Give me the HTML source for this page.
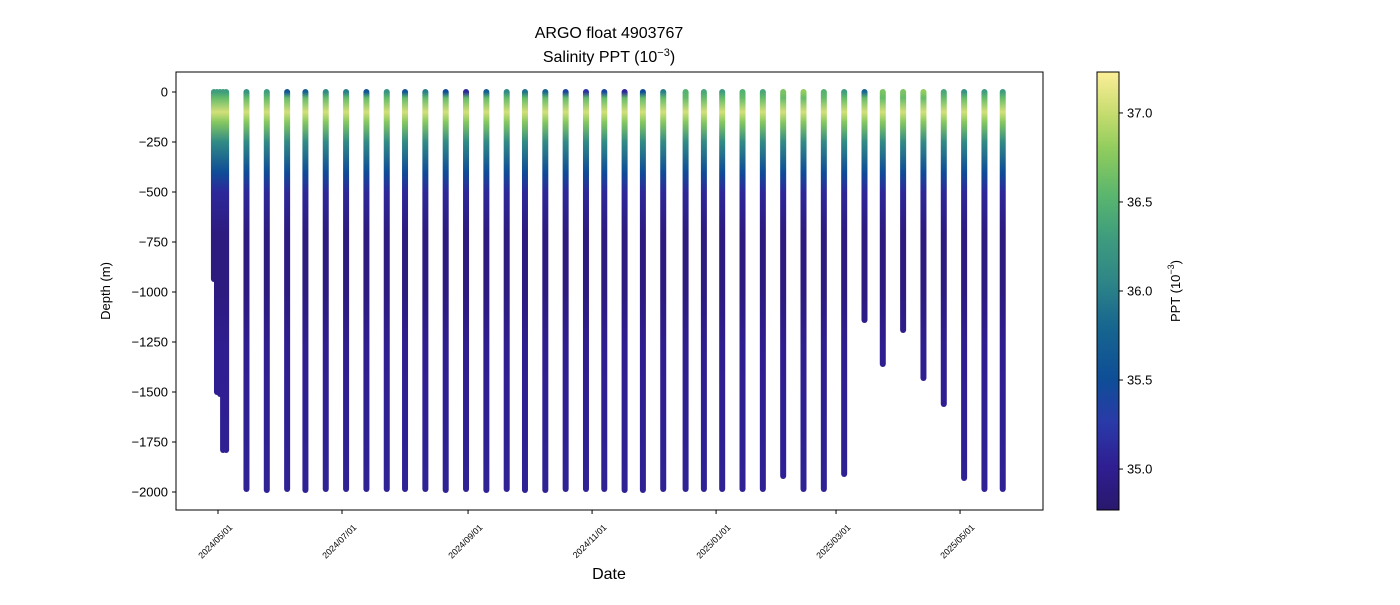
<!DOCTYPE html>
<html><head><meta charset="utf-8"><style>
body{margin:0;background:#fff;}
svg{font-family:"Liberation Sans","DejaVu Sans",sans-serif;}
</style></head><body>
<svg id="chart" width="1400" height="600" xmlns="http://www.w3.org/2000/svg">
<defs id="defs"></defs>
<rect width="1400" height="600" fill="#fff"/>
<text x="609" y="38" text-anchor="middle" font-size="16">ARGO float 4903767</text>
<text x="609" y="62" text-anchor="middle" font-size="16">Salinity PPT (10<tspan dy="-6" font-size="11">−3</tspan><tspan dy="6">)</tspan></text>
<g id="profiles"></g>
<rect x="176" y="72" width="867" height="438" fill="none" stroke="#000" stroke-width="1"/>
<g id="yaxis"></g>
<g id="xaxis"></g>
<text transform="translate(110,291) rotate(-90)" text-anchor="middle" font-size="13">Depth (m)</text>
<text x="609" y="579" text-anchor="middle" font-size="16">Date</text>
<rect x="1097" y="72" width="22" height="438" fill="url(#cbgrad)" stroke="#000" stroke-width="1"/>
<g id="cbaxis"></g>
<text transform="translate(1180,291) rotate(-90)" text-anchor="middle" font-size="13">PPT (10<tspan dy="-6" font-size="9">−3</tspan><tspan dy="6">)</tspan></text>
</svg>
<script>
// ---- data ----
const dayOffsets=[-2,-0.5,1,2.5,4,14,24,34,43,53,63,73,83,92,102,112,122,132,142,151,161,171,181,190,200,209,219,230,239,248,258,268,278,288,298,308,318,327,337,347,357,367,377,386];
const maxDepths=[935,1500,1510,1790,1790,1985,1990,1985,1990,1985,1985,1985,1985,1985,1985,1990,1985,1990,1985,1990,1990,1985,1985,1985,1990,1990,1985,1985,1985,1985,1985,1985,1920,1985,1985,1910,1140,1360,1190,1430,1560,1930,1985,1985];
const surfaceSal=[36.3,36.3,36.3,36.3,36.3,36.2,36.3,35.6,35.7,36.1,36.0,35.6,36.2,35.6,36.0,35.5,35.1,35.7,36.1,35.9,35.8,35.4,35.2,35.4,35.1,35.5,36.0,36.5,36.4,36.3,36.5,36.4,36.7,36.8,36.5,36.3,35.8,36.7,36.7,36.8,36.4,36.2,36.3,36.3];
const profDepthNodes=[0,30,100,150,250,400,500,700,1000,1300,2000];
const profSalNodes=[null,36.6,37.05,36.75,36.1,35.5,35.1,34.9,34.9,35.0,35.05];
const yTicks=[0,-250,-500,-750,-1000,-1250,-1500,-1750,-2000];
const xTickDays=[0,61,123,184,245,304,365];
const xTickLabels=["2024/05/01","2024/07/01","2024/09/01","2024/11/01","2025/01/01","2025/03/01","2025/05/01"];
const cbTicks=[35.0,35.5,36.0,36.5,37.0];
// ---- scales ----
const X=d=>218+d*2.033;
const Y=z=>92+z*0.2;
const SMIN=34.77,SMAX=37.23;
const CBY=s=>510-(s-SMIN)/(SMAX-SMIN)*438;
const cmap=[[0,"#2a186c"],[0.1,"#2f1e92"],[0.2,"#2a3aa8"],[0.3,"#0e4e96"],[0.42,"#17668f"],[0.52,"#2e8587"],[0.62,"#3e9c7e"],[0.72,"#5ab66e"],[0.82,"#8ecb5d"],[0.9,"#c3db6d"],[1,"#fdee99"]];
function col(s){let t=Math.max(0,Math.min(1,(s-SMIN)/(SMAX-SMIN)));
for(let i=1;i<cmap.length;i++){if(t<=cmap[i][0]){const a=cmap[i-1],b=cmap[i];const u=(t-a[0])/(b[0]-a[0]);
const pa=[1,3,5].map(k=>parseInt(a[1].substr(k,2),16)),pb=[1,3,5].map(k=>parseInt(b[1].substr(k,2),16));
return "rgb("+pa.map((v,j)=>Math.round(v+(pb[j]-v)*u)).join(",")+")";}}return cmap[cmap.length-1][1];}
const NS="http://www.w3.org/2000/svg";
function mk(tag,attrs,parent){const e=document.createElementNS(NS,tag);for(const k in attrs)e.setAttribute(k,attrs[k]);parent.appendChild(e);return e;}
const defs=document.getElementById('defs');
const cg=mk('linearGradient',{id:'cbgrad',x1:0,y1:1,x2:0,y2:0},defs);
for(let i=0;i<=40;i++){const t=i/40;mk('stop',{offset:t,'stop-color':col(SMIN+t*(SMAX-SMIN))},cg);}
const pg=document.getElementById('profiles');
dayOffsets.forEach((d,i)=>{
  const md=maxDepths[i];const x=X(d);
  const g=mk('linearGradient',{id:'pg'+i,gradientUnits:'userSpaceOnUse',x1:0,y1:Y(0),x2:0,y2:Y(md)},defs);
  profDepthNodes.forEach((z,k)=>{if(z>md)return;const s=k===0?surfaceSal[i]:profSalNodes[k];
    mk('stop',{offset:z/md,'stop-color':col(s)},g);});
  const last=profDepthNodes.filter(z=>z<=md).length;
  if(last<profDepthNodes.length){const k=last;const z0=profDepthNodes[k-1],z1=profDepthNodes[k];const s=profSalNodes[k-1]+(profSalNodes[k]-profSalNodes[k-1])*(md-z0)/(z1-z0);mk('stop',{offset:1,'stop-color':col(s)},g);}
  const r=mk('rect',{x:x-3,y:Y(0)-3,width:6,height:Y(md)-Y(0)+6,rx:3,fill:'url(#pg'+i+')'},pg);
  
  
});
const ya=document.getElementById('yaxis');
yTicks.forEach(v=>{const y=Y(-v);
  mk('line',{x1:172,x2:176,y1:y,y2:y,stroke:'#000'},ya);
  const t=mk('text',{x:168,y:y+4.5,'text-anchor':'end','font-size':13},ya);t.textContent=v===0?"0":"−"+(-v);
  
  });
const xa=document.getElementById('xaxis');
xTickDays.forEach((d,i)=>{const x=X(d);
  mk('line',{x1:x,x2:x,y1:510,y2:514,stroke:'#000'},xa);
  const t=mk('text',{transform:'translate('+(x+15)+',528) rotate(-45)','text-anchor':'end','font-size':8.8},xa);t.textContent=xTickLabels[i];
  
  });
const ca=document.getElementById('cbaxis');
cbTicks.forEach(v=>{const y=CBY(v);
  mk('line',{x1:1119,x2:1123,y1:y,y2:y,stroke:'#000'},ca);
  const t=mk('text',{x:1127,y:y+4.5,'font-size':13},ca);t.textContent=v.toFixed(1);
  
  });
</script>
</body></html>
